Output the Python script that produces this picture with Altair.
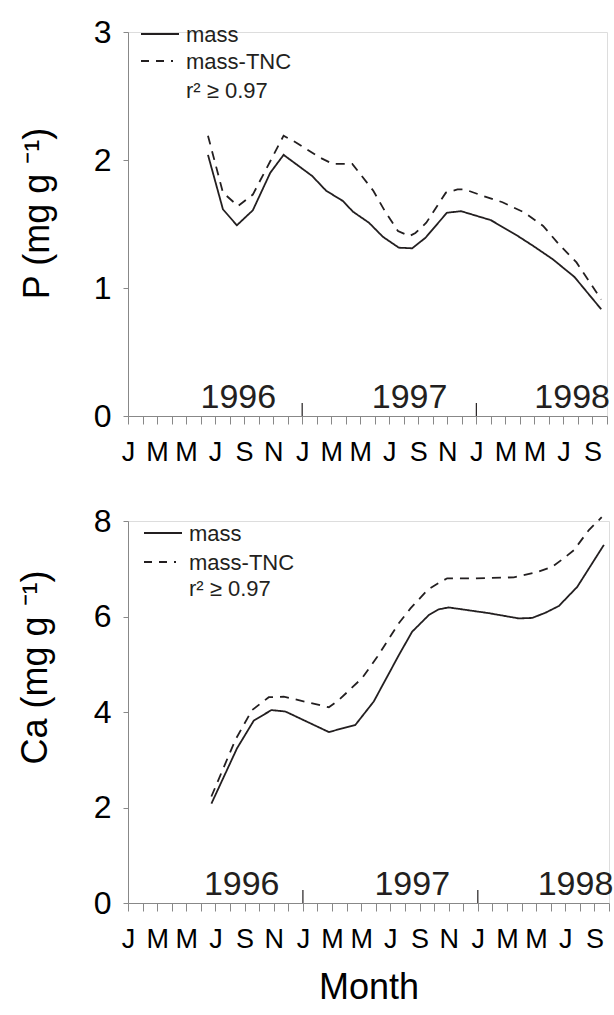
import altair as alt
import pandas as pd

FONT = "Liberation Sans"
INK = "#231f20"

# Sampling positions are months elapsed since 1 January 1996.
p_mass_month = [5.51, 6.54, 7.50, 8.60, 9.80, 10.72, 12.69, 13.65, 14.8, 15.5, 16.6,
                17.56, 18.66, 19.58, 20.5, 21.97, 22.95, 25.0, 26.86, 27.9, 29.27,
                30.76, 32.6]
p_mass = [2.04, 1.615, 1.49, 1.607, 1.90, 2.04, 1.875, 1.76, 1.68, 1.596, 1.51,
          1.40, 1.315, 1.31, 1.393, 1.588, 1.60, 1.53, 1.406, 1.33, 1.224,
          1.086, 0.834]

p_tnc_month = [5.51, 6.54, 7.58, 8.60, 9.80, 10.72, 11.6, 13.2, 14.1, 15.45, 16.9,
               17.7, 18.6, 19.4, 19.8, 20.55, 21.9, 22.7, 23.2, 24.45, 25.8, 27.3,
               28.6, 29.7, 30.9, 32.6]
p_tnc = [2.19, 1.745, 1.64, 1.73, 1.99, 2.19, 2.135, 2.02, 1.97, 1.97, 1.76,
         1.60, 1.445, 1.406, 1.43, 1.51, 1.745, 1.77, 1.77, 1.72, 1.67, 1.59,
         1.485, 1.34, 1.20, 0.91]

ca_mass_month = [5.72, 7.48, 8.63, 9.84, 10.8, 13.78, 15.6, 16.86, 18.58, 19.49,
                 20.64, 21.32, 22.0, 24.75, 26.8, 27.73, 28.65, 29.56, 30.82, 32.65]
ca_mass = [2.08, 3.24, 3.82, 4.04, 4.01, 3.58, 3.73, 4.22, 5.19, 5.68,
           6.03, 6.15, 6.19, 6.07, 5.96, 5.97, 6.08, 6.22, 6.62, 7.50]

ca_tnc_month = [5.72, 7.37, 8.51, 9.66, 10.69, 13.78, 14.46, 16.06, 17.09, 18.58,
                19.38, 20.6, 21.2, 21.9, 23.84, 26.47, 27.96, 29.1, 29.9, 30.59,
                31.62, 32.5]
ca_tnc = [2.23, 3.42, 4.04, 4.31, 4.32, 4.10, 4.25, 4.71, 5.15, 5.86,
          6.17, 6.57, 6.68, 6.80, 6.80, 6.82, 6.92, 7.04, 7.22, 7.39,
          7.81, 8.08]

series_names = ["mass", "mass-TNC"]
month_letters = ["J", "M", "M", "J", "S", "N"]
year_names = ["1996", "1997", "1998"]
year_breaks = [12, 24]
r2_text = "r\u00b2 \u2265 0.97"

LINE_DASH = [9, 7]
LINE_W = 1.8


def long_table(m1, v1, m2, v2):
    a = pd.DataFrame({"month": m1, "value": v1, "series": series_names[0]})
    b = pd.DataFrame({"month": m2, "value": v2, "series": series_names[1]})
    return pd.concat([a, b], ignore_index=True)


def panel(table, ymax, ystep, ytitle, width, height, year_at, rows, leg_x,
          title_y, title_x, xtitle):
    one = pd.DataFrame({"k": [0]})
    letters = "[" + ",".join("'%s'" % s for s in month_letters) + "]"
    x_axis_kw = dict(
        values=list(range(34)), tickSize=8, labelPadding=15, labelFontSize=27,
        labelExpr="datum.value % 2 == 0 ? " + letters + "[(datum.value % 12) / 2] : ''",
        labelFlush=False, labelOverlap=False, labelBound=False, grid=False,
    )
    x_scale = alt.Scale(domain=[0, 33], nice=False, zero=False)
    if xtitle:
        x_enc = alt.X("month:Q", scale=x_scale, title=xtitle,
                      axis=alt.Axis(titleFontSize=36, titlePadding=18,
                                    titleFontWeight="normal", **x_axis_kw))
    else:
        x_enc = alt.X("month:Q", scale=x_scale, title=None,
                      axis=alt.Axis(**x_axis_kw))
    y_enc = alt.Y("value:Q", scale=alt.Scale(domain=[0, ymax], nice=False),
                  title=ytitle,
                  axis=alt.Axis(values=list(range(0, ymax + 1, ystep)), tickSize=5,
                                labelPadding=12, labelFontSize=32, grid=False,
                                titleFontSize=36, titleFontWeight="normal",
                                titleX=title_x, titleY=title_y, titleAngle=270,
                                titleBaseline="bottom", titleAlign="center"))

    lines = alt.Chart(table).mark_line(strokeWidth=LINE_W, color=INK).encode(
        x=x_enc, y=y_enc,
        strokeDash=alt.StrokeDash("series:N",
                                  scale=alt.Scale(domain=series_names,
                                                  range=[[1, 0], LINE_DASH]),
                                  legend=None),
        detail="series:N",
    )

    year_ticks = alt.Chart(pd.DataFrame({"month": year_breaks})).mark_rule(
        color=INK, strokeWidth=1.2).encode(
        x=x_enc, y=alt.value(height), y2=alt.value(height - 13))

    year_text = alt.Chart(pd.DataFrame({"month": year_at, "label": year_names})).mark_text(
        font=FONT, fontSize=34, color=INK, baseline="alphabetic", align="center").encode(
        x=x_enc, y=alt.value(height - 8), text="label:N")

    solid_key = alt.Chart(one).mark_rule(color=INK, strokeWidth=LINE_W).encode(
        x=alt.value(leg_x), x2=alt.value(leg_x + 38), y=alt.value(rows[0]))
    dash_key = alt.Chart(one).mark_rule(color=INK, strokeWidth=LINE_W,
                                        strokeDash=[8, 7]).encode(
        x=alt.value(leg_x), x2=alt.value(leg_x + 32), y=alt.value(rows[1]))
    key_text = []
    for label, yy in zip(series_names + [r2_text], rows):
        key_text.append(
            alt.Chart(one).mark_text(text=label, font=FONT, fontSize=22, color=INK,
                                     align="left", baseline="middle").encode(
                x=alt.value(leg_x + 45), y=alt.value(yy + 1)))

    return alt.layer(lines, year_ticks, year_text, solid_key, dash_key,
                     *key_text).properties(width=width, height=height)


top = panel(long_table(p_mass_month, p_mass, p_tnc_month, p_tnc),
            3, 1, "P (mg g \u207b\u00b9)", 479, 384,
            [7.6, 19.4, 30.6], [2, 29, 58], 13, 181, -72, None)
bottom = panel(long_table(ca_mass_month, ca_mass, ca_tnc_month, ca_tnc),
               8, 2, "Ca (mg g \u207b\u00b9)", 481, 382,
               [7.8, 19.5, 30.7], [12, 41, 67], 16, 146, -74, "Month")

chart = alt.vconcat(top, bottom, spacing=38).properties(
    padding={"left": 16, "top": 15, "right": 0, "bottom": 5}
).configure_view(strokeWidth=0).configure_axis(
    domainColor=INK, tickColor=INK, labelColor=INK, titleColor=INK,
    domainWidth=1.2, tickWidth=1.2, labelFont=FONT, titleFont=FONT,
).configure(background="white")

chart.save("out.html", embed_options={"renderer": "svg", "actions": False})
